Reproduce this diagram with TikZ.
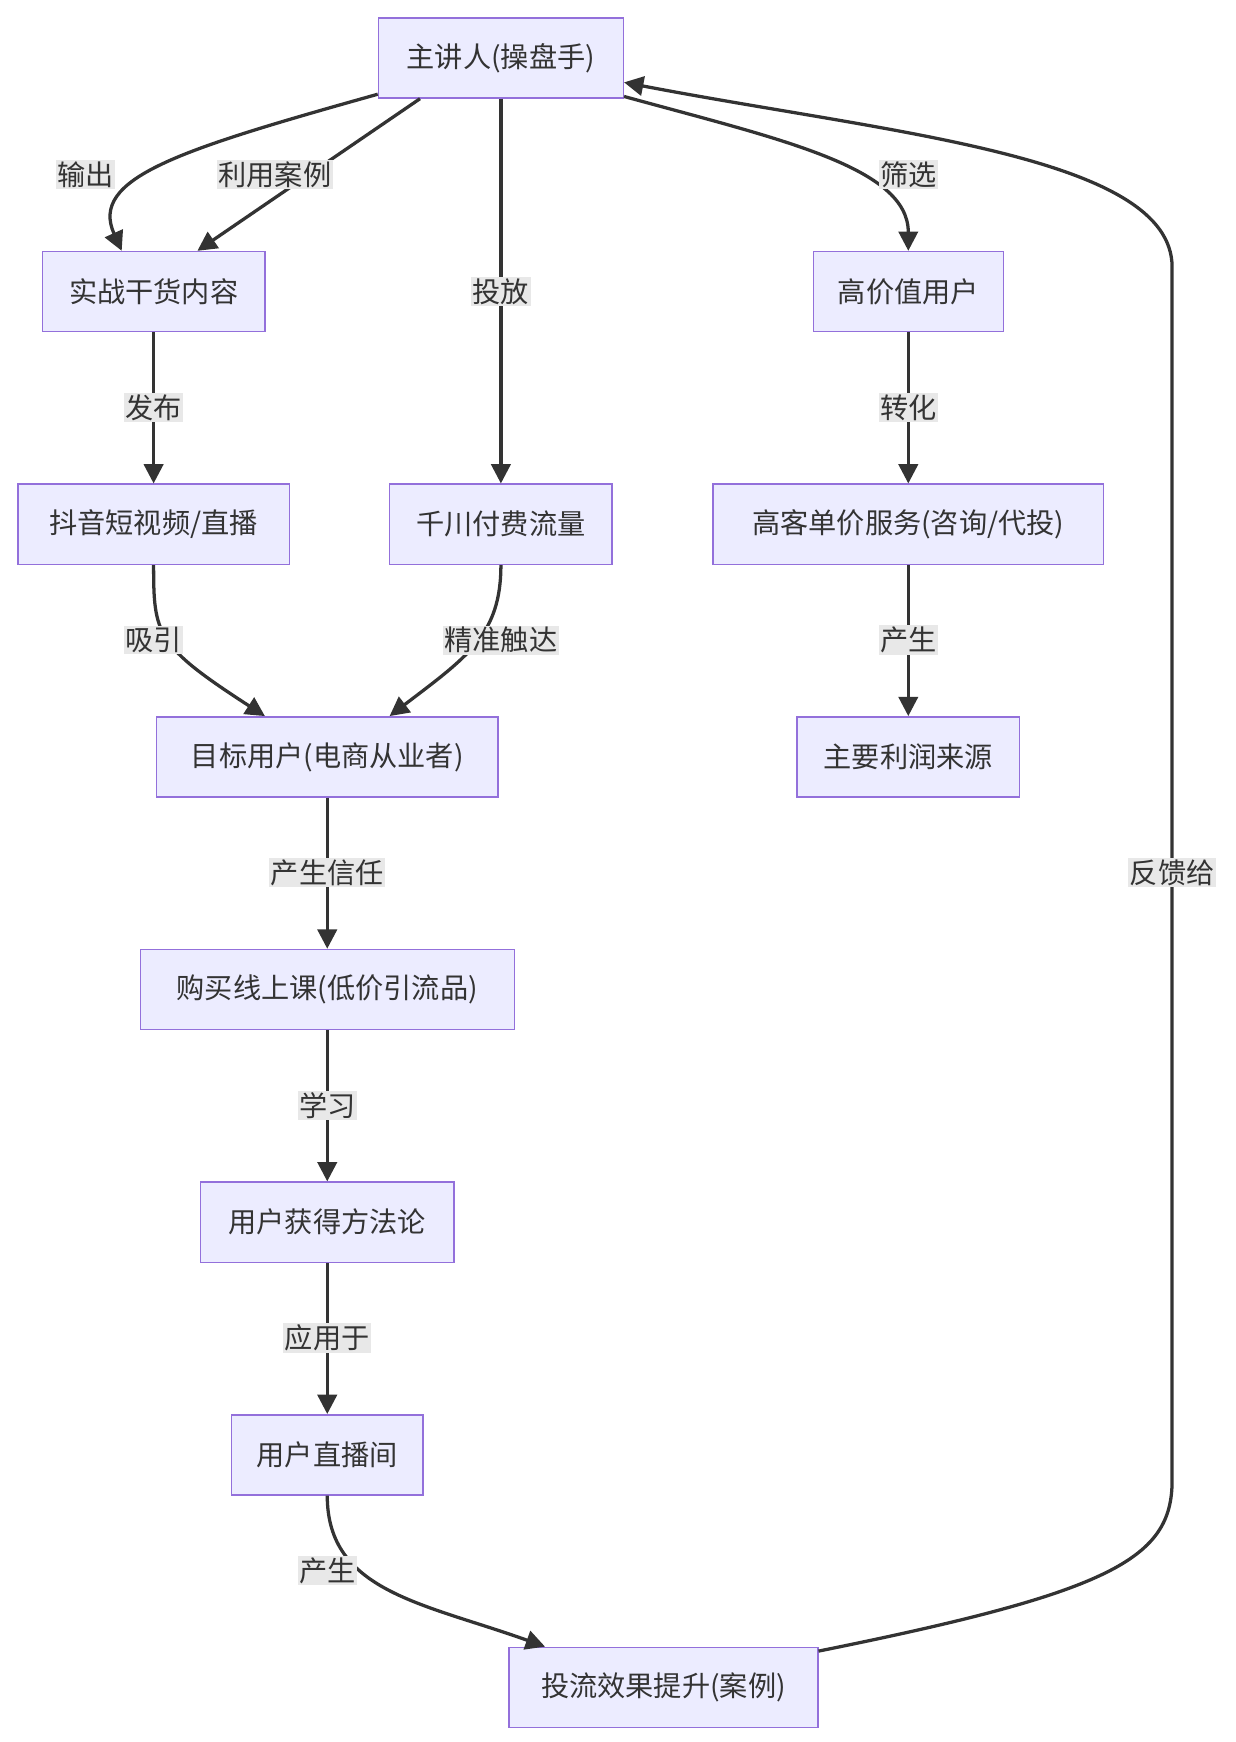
\documentclass[tikz,border=0pt]{standalone}
\usepackage{fontspec}
\setmainfont{Noto Sans CJK SC}
\usetikzlibrary{arrows.meta,calc}
\definecolor{nfill}{HTML}{ECECFF}
\definecolor{nline}{HTML}{9370DB}
\definecolor{eline}{HTML}{333333}
\definecolor{lbg}{HTML}{E8E8E8}
\begin{document}
\begin{tikzpicture}[x=0.75pt,y=-0.75pt,
  box/.style={draw=nline,fill=nfill,line width=1pt,minimum height=54pt,inner xsep=10pt,font=\fontsize{19}{22}\selectfont,text=eline},
  lab/.style={fill=lbg,inner sep=1pt,font=\fontsize{19}{22}\selectfont,text=eline},
  e/.style={draw=eline,line width=2.2pt,-{Triangle[length=13pt,width=13pt]}}]
\useasboundingbox (0,0) rectangle (1110,1565);
\node[box,minimum width=165pt] (A) at (450,52) {主讲人(操盘手)};
\node[box,minimum width=150pt] (B) at (138,262) {实战干货内容};
\node[box,minimum width=128pt] (C) at (816,262) {高价值用户};
\node[box,minimum width=183pt] (D) at (138,471) {抖音短视频/直播};
\node[box,minimum width=150pt] (E) at (450,471) {千川付费流量};
\node[box,minimum width=263pt] (F) at (816,471) {高客单价服务(咨询/代投)};
\node[box,minimum width=230pt] (G) at (294,680) {目标用户(电商从业者)};
\node[box,minimum width=150pt] (H) at (816,680) {主要利润来源};
\node[box,minimum width=252pt] (I) at (294,889) {购买线上课(低价引流品)};
\node[box,minimum width=171pt] (J) at (294,1098) {用户获得方法论};
\node[box,minimum width=129pt] (K) at (294,1307) {用户直播间};
\node[box,minimum width=208pt] (L) at (596,1516) {投流效果提升(案例)};
% edges
\draw[e] ($(A.south west)+(0,-4)$) .. controls (160,135) and (80,160) .. ($(B.north west)+(72,0)$);
\draw[e] ($(A.south west)+(38,0)$) -- ($(B.north west)+(140,0)$);
\draw[e] (A) -- (E);
\draw[e] ($(A.south east)+(0,-2)$) .. controls (700,125) and (816,150) .. (C.north);
\draw[e] (B) -- (D);
\draw[e] (C) -- (F);
\draw[e] (D.south) .. controls (138,570) and (140,580) .. ($(G.north west)+(98,0)$);
\draw[e] (E.south) .. controls (450,570) and (420,590) .. ($(G.north west)+(210,0)$);
\draw[e] (F) -- (H);
\draw[e] (G) -- (I);
\draw[e] (I) -- (J);
\draw[e] (J) -- (K);
\draw[e] (K.south) .. controls (294,1430) and (380,1440) .. ($(L.north west)+(33,0)$);
\draw[e] ($(L.north east)+(0,4)$) .. controls (1000,1430) and (1053,1400) .. (1053,1330) -- (1053,240) .. controls (1053,140) and (800,120) .. ($(A.east)+(0,22)$);
% labels
\node[lab] (l1) at (77,157) {输出};
\node[lab] (l2) at (247,157) {利用案例};
\node[lab] (l3) at (450,262) {投放};
\node[lab] (l4) at (816,157) {筛选};
\node[lab] (l5) at (138,366) {发布};
\node[lab] (l6) at (816,366) {转化};
\node[lab] (l7) at (138,575) {吸引};
\node[lab] (l8) at (450,575) {精准触达};
\node[lab] (l9) at (816,575) {产生};
\node[lab] (l10) at (294,784) {产生信任};
\node[lab] (l11) at (294,993) {学习};
\node[lab] (l12) at (294,1202) {应用于};
\node[lab] (l13) at (294,1411) {产生};
\node[lab] (l14) at (1053,784) {反馈给};
\end{tikzpicture}
\end{document}
